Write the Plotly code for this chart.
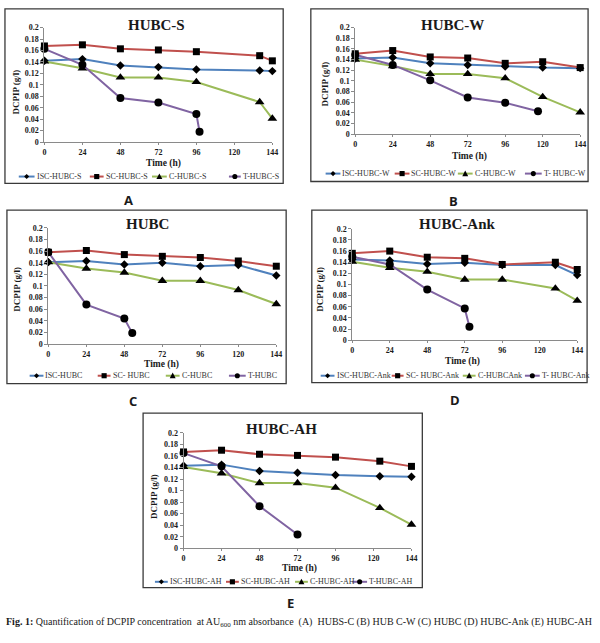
import plotly.graph_objects as go

W, H = 600, 643

# ---------------- data ----------------
tick_hours = [0, 24, 48, 72, 96, 120, 144]
tick_hours_text = ["0", "24", "48", "72", "96", "120", "144"]
y_ticks = [0, 0.02, 0.04, 0.06, 0.08, 0.1, 0.12, 0.14, 0.16, 0.18, 0.2]
y_ticks_text = ["0", "0.02", "0.04", "0.06", "0.08", "0.1", "0.12", "0.14", "0.16", "0.18", "0.2"]

# Panel A : HUBC-S
a_x = [0, 24, 48, 72, 96, 136, 144]
a_isc = [0.142, 0.145, 0.134, 0.131, 0.127, 0.125, 0.124]
a_sc = [0.168, 0.170, 0.163, 0.161, 0.158, 0.151, 0.142]
a_c = [0.141, 0.129, 0.113, 0.113, 0.105, 0.070, 0.041]
a_t_x = [0, 24, 48, 72, 96, 98]
a_t = [0.163, 0.135, 0.077, 0.069, 0.049, 0.018]

# Panel B : HUBC-W
b_x = [0, 24, 48, 72, 96, 120, 144]
b_isc = [0.142, 0.144, 0.133, 0.130, 0.127, 0.125, 0.124]
b_sc = [0.151, 0.157, 0.145, 0.143, 0.133, 0.136, 0.125]
b_c = [0.140, 0.128, 0.113, 0.113, 0.105, 0.070, 0.041]
b_t_x = [0, 24, 48, 72, 96, 117]
b_t = [0.149, 0.130, 0.101, 0.069, 0.059, 0.043]

# Panel C : HUBC
c_x = [0, 24, 48, 72, 96, 120, 144]
c_isc = [0.141, 0.143, 0.137, 0.140, 0.134, 0.136, 0.118]
c_sc = [0.158, 0.161, 0.154, 0.151, 0.149, 0.143, 0.134]
c_c = [0.141, 0.130, 0.123, 0.109, 0.109, 0.093, 0.069]
c_t_x = [0, 24, 48, 53]
c_t = [0.158, 0.068, 0.044, 0.019]

# Panel D : HUBC-Ank
d_x = [0, 24, 48, 72, 96, 130, 144]
d_isc = [0.145, 0.143, 0.137, 0.139, 0.135, 0.135, 0.117]
d_sc = [0.156, 0.160, 0.149, 0.147, 0.136, 0.140, 0.127]
d_c = [0.141, 0.130, 0.123, 0.109, 0.109, 0.093, 0.071]
d_t_x = [0, 24, 48, 72, 75]
d_t = [0.150, 0.136, 0.091, 0.057, 0.024]

# Panel E : HUBC-AH
e_x = [0, 24, 48, 72, 96, 124, 144]
e_isc = [0.143, 0.145, 0.134, 0.131, 0.127, 0.125, 0.124]
e_sc = [0.167, 0.170, 0.163, 0.161, 0.158, 0.151, 0.142]
e_c = [0.141, 0.130, 0.113, 0.113, 0.105, 0.070, 0.041]
e_t_x = [0, 24, 48, 72]
e_t = [0.165, 0.142, 0.073, 0.024]

panel_titles = ["HUBC-S", "HUBC-W", "HUBC", "HUBC-Ank", "HUBC-AH"]
legend_names = [
    ["ISC-HUBC-S", "SC-HUBC-S", "C-HUBC-S", "T-HUBC-S"],
    ["ISC-HUBC-W", "SC-HUBC-W", "C-HUBC-W", "T- HUBC-W"],
    ["ISC-HUBC", "SC- HUBC", "C-HUBC", "T-HUBC"],
    ["ISC-HUBC-Ank", "SC- HUBC-Ank", "C-HUBCAnk", "T- HUBC-Ank"],
    ["ISC-HUBC-AH", "SC-HUBC-AH", "C-HUBC-AH", "T-HUBC-AH"],
]
panel_letters = ["A", "B", "C", "D", "E"]
caption = ("<b>Fig. 1:</b> Quantification of DCPIP concentration  at AU<sub>600</sub> nm absorbance  "
           "(A)  HUBS-C (B) HUB C-W (C) HUBC (D) HUBC-Ank (E) HUBC-AH")

panels = [
    (a_x, a_isc, a_sc, a_c, a_t_x, a_t),
    (b_x, b_isc, b_sc, b_c, b_t_x, b_t),
    (c_x, c_isc, c_sc, c_c, c_t_x, c_t),
    (d_x, d_isc, d_sc, d_c, d_t_x, d_t),
    (e_x, e_isc, e_sc, e_c, e_t_x, e_t),
]

# ---------------- layout (pixels) ----------------
def PX(x):
    return x / W

def PY(y):
    return 1 - y / H

# plot area: (x at 0h, x at 144h, y at 0, y at 0.2)
plot_px = [
    (43, 274, 140, 24),
    (358, 586, 132, 24),
    (47, 278, 345, 227),
    (355, 583, 341, 228),
    (184, 415, 552, 435),
]
boxes = [
    (3, 5, 285, 182),
    (313, 5, 594, 180),
    (5, 209, 288, 385),
    (314, 209, 593, 384),
    (143, 415, 426, 592),
]
title_pos = [(157, 21), (457, 21), (147, 223), (462, 223), (283, 431)]
ytitle_pos = [(14, 89), (327, 81), (15, 289), (322, 289), (154, 499)]
xtitle_pos = [(164, 162), (474, 155), (162, 366), (467, 363), (302, 573)]
letter_pos = [(128, 199), (458, 200), (133, 403), (459, 402), (292, 608)]
# legend: y, and per item (line x0, line x1, text x)
legend_layout = [
    (175, [(17, 33, 33), (89, 103, 103), (152, 167, 167), (230, 242, 242)]),
    (172, [(328, 343, 343), (398, 413, 413), (462, 477, 477), (530, 547, 547)]),
    (377, [(28, 42, 42), (97, 110, 110), (166, 180, 180), (230, 247, 247)]),
    (377, [(323, 337, 337), (395, 407, 407), (467, 480, 480), (530, 545, 545)]),
    (586, [(155, 168, 168), (227, 240, 240), (297, 310, 310), (355, 370, 370)]),
]

colors = ["#4F81BD", "#C0504D", "#9BBB59", "#8064A2"]
symbols = ["diamond", "square", "triangle-up", "circle"]
sizes = [6.5, 7, 8.5, 8]

SERIF = "'Liberation Serif', 'Times New Roman', Times, serif"
AXIS_COL = "#8a8a8a"
TXT = "#1a1a1a"

fig = go.Figure()
layout = {}
shapes = []
annotations = []

for i, (xs, isc, sc, cc, tx, tt) in enumerate(panels):
    n = "" if i == 0 else str(i + 1)
    xa, ya = "x" + n, "y" + n
    series = [(xs, isc), (xs, sc), (xs, cc), (tx, tt)]
    for k, (sx, sy) in enumerate(series):
        fig.add_trace(go.Scatter(
            x=sx, y=sy, xaxis=xa, yaxis=ya, mode="lines+markers",
            name=legend_names[i][k], showlegend=False, cliponaxis=False,
            line=dict(color=colors[k], width=2),
            marker=dict(symbol=symbols[k], size=sizes[k], color="#000000",
                        line=dict(width=0)),
        ))
    x0, x1, y0, y1 = plot_px[i]
    layout["xaxis" + n] = dict(
        domain=[PX(x0), PX(x1)], range=[0, 144], anchor=ya,
        tickvals=tick_hours, ticktext=tick_hours_text,
        showline=True, linecolor=AXIS_COL, linewidth=1,
        ticks="outside", ticklen=2, tickcolor=AXIS_COL,
        showgrid=False, zeroline=False, fixedrange=True,
        tickfont=dict(family=SERIF, size=8, color=TXT, weight="bold"),
    )
    layout["yaxis" + n] = dict(
        domain=[PY(y0), PY(y1)], range=[0, 0.2], anchor=xa,
        tickvals=y_ticks, ticktext=y_ticks_text,
        showline=True, linecolor=AXIS_COL, linewidth=1,
        ticks="outside", ticklen=3, tickcolor=AXIS_COL,
        showgrid=False, zeroline=False, fixedrange=True,
        tickfont=dict(family=SERIF, size=8, color=TXT, weight="bold"),
    )
    # frame
    bx0, by0, bx1, by1 = boxes[i]
    shapes.append(dict(type="rect", xref="paper", yref="paper",
                       x0=PX(bx0), x1=PX(bx1), y0=PY(by1), y1=PY(by0),
                       line=dict(color="#3a3a3a", width=1.3)))
    # title
    tx_, ty_ = title_pos[i]
    annotations.append(dict(text="<b>" + panel_titles[i] + "</b>", x=PX(tx_), y=PY(ty_),
                            xref="paper", yref="paper", showarrow=False,
                            xanchor="center", yanchor="middle",
                            font=dict(family=SERIF, size=15, color=TXT)))
    # y title
    yx, yy = ytitle_pos[i]
    annotations.append(dict(text="<b>DCPIP (g/l)</b>", x=PX(yx), y=PY(yy),
                            xref="paper", yref="paper", showarrow=False, textangle=-90,
                            xanchor="center", yanchor="middle",
                            font=dict(family=SERIF, size=9, color=TXT)))
    # x title
    xx, xy = xtitle_pos[i]
    annotations.append(dict(text="<b>Time (h)</b>", x=PX(xx), y=PY(xy),
                            xref="paper", yref="paper", showarrow=False,
                            xanchor="center", yanchor="middle",
                            font=dict(family=SERIF, size=9.5, color=TXT)))
    # panel letter
    lx, ly = letter_pos[i]
    annotations.append(dict(text="<b>" + panel_letters[i] + "</b>", x=PX(lx), y=PY(ly),
                            xref="paper", yref="paper", showarrow=False,
                            xanchor="center", yanchor="middle",
                            font=dict(family="Open Sans", size=13, color=TXT)))
    # legend
    ly_, items = legend_layout[i]
    for k, (lx0, lx1, ltx) in enumerate(items):
        shapes.append(dict(type="line", xref="paper", yref="paper",
                           x0=PX(lx0), x1=PX(lx1), y0=PY(ly_), y1=PY(ly_),
                           line=dict(color=colors[k], width=2)))
        cx = (lx0 + lx1) / 2.0
        r = 2.6
        if symbols[k] == "diamond":
            pts = [(cx - r, ly_), (cx, ly_ - r), (cx + r, ly_), (cx, ly_ + r)]
        elif symbols[k] == "square":
            pts = [(cx - r, ly_ - r), (cx + r, ly_ - r), (cx + r, ly_ + r), (cx - r, ly_ + r)]
        elif symbols[k] == "triangle-up":
            pts = [(cx - r - 0.4, ly_ + r), (cx + r + 0.4, ly_ + r), (cx, ly_ - r - 0.6)]
        else:
            pts = None
        if pts is None:
            shapes.append(dict(type="circle", xref="paper", yref="paper",
                               x0=PX(cx - r), x1=PX(cx + r), y0=PY(ly_ + r), y1=PY(ly_ - r),
                               fillcolor="#000000", line=dict(width=0)))
        else:
            path = "M" + " L".join("%.5f,%.5f" % (PX(px), PY(py)) for px, py in pts) + " Z"
            shapes.append(dict(type="path", xref="paper", yref="paper", path=path,
                               fillcolor="#000000", line=dict(width=0)))
        annotations.append(dict(text=legend_names[i][k], x=PX(ltx), y=PY(ly_),
                                xref="paper", yref="paper", showarrow=False,
                                xanchor="left", yanchor="middle",
                                font=dict(family=SERIF, size=8, color="#333333")))

annotations.append(dict(text=caption, x=PX(301), y=PY(627), xref="paper", yref="paper",
                        showarrow=False, xanchor="center", yanchor="middle",
                        font=dict(family=SERIF, size=10, color=TXT)))

fig.update_layout(
    width=W, height=H, margin=dict(l=0, r=0, t=0, b=0),
    paper_bgcolor="white", plot_bgcolor="white",
    showlegend=False, shapes=shapes, annotations=annotations,
    **layout,
)

fig.write_html("out.html", config={"displayModeBar": False, "staticPlot": True},
               post_script="document.body.style.margin='0px';")
